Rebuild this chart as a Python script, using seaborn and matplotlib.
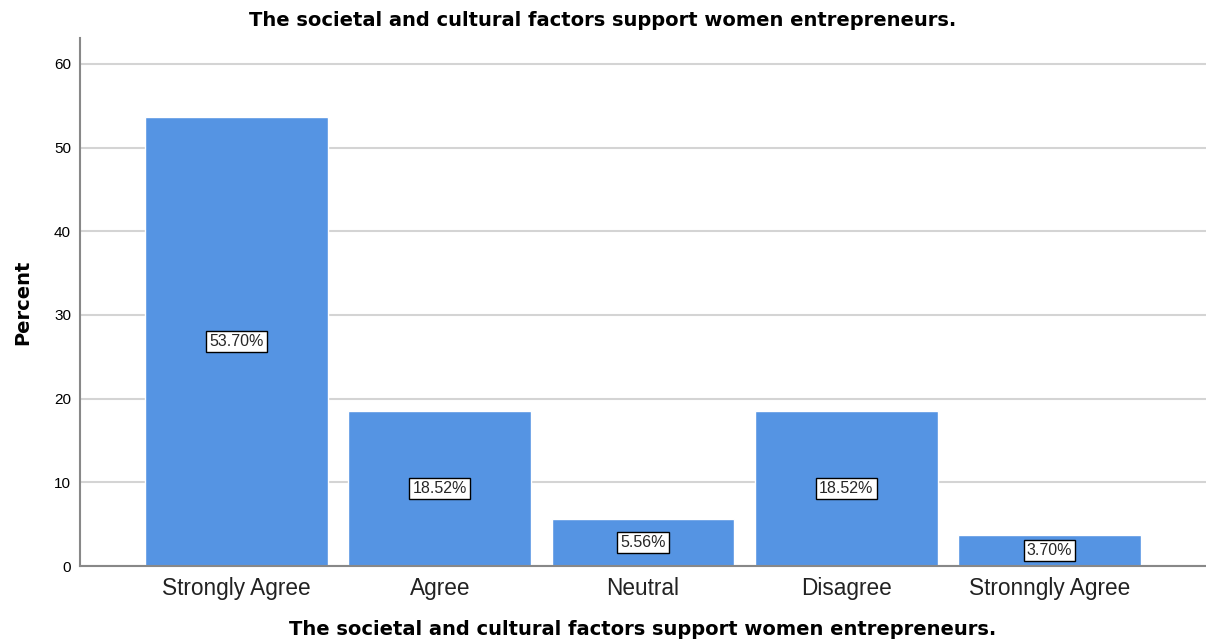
import matplotlib
matplotlib.use('Agg')
import matplotlib.pyplot as plt
import seaborn as sns
import pandas as pd

categories = ['Strongly Agree', 'Agree', 'Neutral', 'Disagree', 'Stronngly Agree']
percents = [53.70, 18.52, 5.56, 18.52, 3.70]
title = 'The societal and cultural factors support women entrepreneurs.'

df = pd.DataFrame({'cat': categories, 'pct': percents})

sns.set_style('white')
plt.rcParams['font.family'] = ['Liberation Sans', 'DejaVu Sans']

# wider bold face for the titles
bold = dict(family='DejaVu Sans', fontweight='bold')

fig = plt.figure(figsize=(12.06, 6.44), dpi=100)
ax = fig.add_axes([80 / 1206, 78 / 644, 1 - 80 / 1206, (566 - 38) / 644])

sns.barplot(data=df, x='cat', y='pct', color='#5594e3', saturation=1, width=0.9, ax=ax, zorder=2)

ax.set_ylim(0, 63.1)
ax.set_xlim(-0.77, 4.77)
ax.set_yticks([0, 10, 20, 30, 40, 50, 60])
ax.yaxis.grid(True, color='#d4d4d4', linewidth=1.5, zorder=0)
ax.set_axisbelow(True)

for s in ['top', 'right']:
    ax.spines[s].set_visible(False)
for s in ['left', 'bottom']:
    ax.spines[s].set_color('#888888')
    ax.spines[s].set_linewidth(1.5)

ax.tick_params(axis='y', labelsize=11, length=0, pad=6.5, colors='black')
ax.tick_params(axis='x', labelsize=16.3, length=0, pad=8, colors='#222222')

for i, v in enumerate(percents):
    ax.text(i, v / 2, f'{v:.2f}%', ha='center', va='center', fontsize=11.5, zorder=5,
            bbox=dict(boxstyle='square,pad=0.2', facecolor='white', edgecolor='black', linewidth=1))

ax.set_xlabel(title, fontsize=14, labelpad=14, color='black', **bold)
ax.set_ylabel('Percent', fontsize=14, labelpad=16, color='black', **bold)
fig.text(0.5, 0.968, title, ha='center', va='center', fontsize=14, color='black', **bold)

fig.savefig('out.png', dpi=100)
